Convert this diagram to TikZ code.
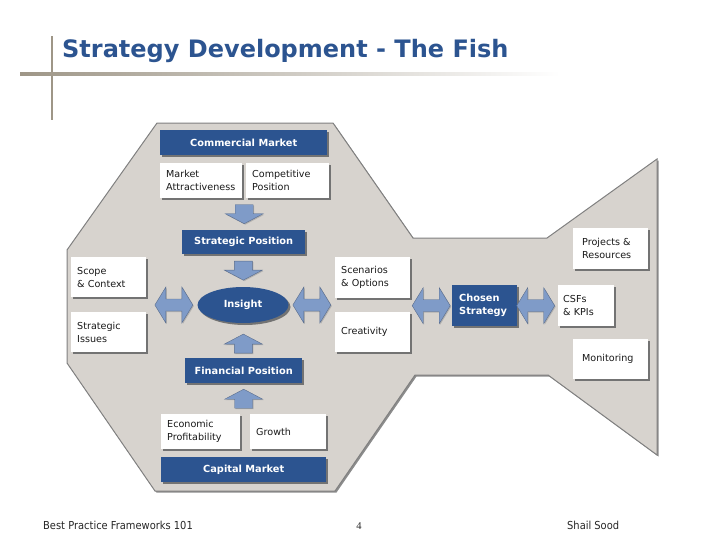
\documentclass[tikz,border=0pt]{standalone}
\usepackage{fontspec}
\setmainfont{DejaVu Sans}
\newfontfamily\footfont{DejaVu Sans Condensed}
\newfontfamily\pagefont{Liberation Serif}
\usetikzlibrary{shapes.geometric,shadows,calc}

\definecolor{fishblue}{RGB}{44,84,144}
\definecolor{fishgray}{RGB}{215,211,206}
\definecolor{arrowblue}{RGB}{127,155,200}
\definecolor{ruletan}{RGB}{158,150,135}

\begin{document}
\begin{tikzpicture}[x=1pt,y=-1pt,
  boxshadow/.style={drop shadow={shadow xshift=2pt,shadow yshift=-2pt,fill=black!55,opacity=1}},
  blue box/.style={fill=fishblue,text=white,font=\fontsize{9.8}{13}\selectfont\bfseries,
    anchor=north west,inner sep=0pt,boxshadow},
  white box/.style={fill=white,text=black!90,font=\fontsize{9.6}{13}\selectfont,
    anchor=north west,align=left,inner xsep=6pt,inner ysep=0pt,boxshadow},
  barrow/.style={fill=arrowblue,draw=arrowblue!70!black,line width=0.4pt,
    drop shadow={shadow xshift=1pt,shadow yshift=-1pt,fill=black!40,opacity=.6}},
  varrow/.pic={\draw[barrow] (-9,-9.5) -- (9,-9.5) -- (9,-0.5) -- (19,-0.5) -- (0,9.5)
    -- (-19,-0.5) -- (-9,-0.5) -- cycle;},
  harrow/.pic={\draw[barrow] (-19,0) -- (-8,-18) -- (-8,-6) -- (8,-6) -- (8,-18) -- (19,0)
    -- (8,18) -- (8,6) -- (-8,6) -- (-8,18) -- cycle;}]
  \useasboundingbox (0,0) rectangle (728,546);

  \fill[ruletan] (51,36) rectangle (53,120);
  \shade[left color=ruletan,right color=white] (20,72.5) rectangle (560,75.5);
  \node[anchor=base west,inner sep=0pt,text=fishblue,font=\fontsize{24}{28}\selectfont\bfseries]
    (title) at (62,57) {Strategy Development - The Fish};

  \filldraw[fill=fishgray,draw=black!50,line width=1pt,
    drop shadow={shadow xshift=1.5pt,shadow yshift=-1.5pt,fill=black!45,opacity=1}]
    (157,123) -- (333,123) -- (413,238) -- (547,238) -- (657,159) -- (657,455)
    -- (548,375) -- (415,375) -- (335,491) -- (155,491) -- (67,363) -- (67,250) -- cycle;

  \node[blue box,minimum width=167pt,minimum height=25pt] (cmarket) at (160,130) {Commercial Market};
  \node[white box,text width=70pt,minimum height=35pt] (mattr) at (160,163) {Market\\Attractiveness};
  \node[white box,text width=71pt,minimum height=35pt] (cpos) at (246,163) {Competitive\\Position};
  \node[blue box,minimum width=123pt,minimum height=24pt] (spos) at (182,230) {Strategic Position};
  \node[ellipse,fill=fishblue,text=white,inner sep=0pt,minimum width=91pt,minimum height=36pt,
    font=\fontsize{9.8}{13}\selectfont\bfseries,boxshadow] (insight) at (243,305) {Insight};
  \node[blue box,minimum width=117pt,minimum height=25pt] (fpos) at (185,358) {Financial Position};
  \node[white box,text width=67pt,minimum height=35pt] (eprof) at (161,414) {Economic\\Profitability};
  \node[white box,text width=64pt,minimum height=35pt] (growth) at (250,414) {Growth};
  \node[blue box,minimum width=165pt,minimum height=25pt] (capmkt) at (161,457) {Capital Market};

  \node[white box,text width=63pt,minimum height=40pt] (scope) at (71,257) {Scope\\ \& Context};
  \node[white box,text width=63pt,minimum height=40pt] (issues) at (71,312) {Strategic\\Issues};
  \node[white box,text width=63pt,minimum height=41pt] (scen) at (335,257) {Scenarios\\ \& Options};
  \node[white box,text width=63pt,minimum height=40pt] (creat) at (335,312) {Creativity};
  \node[blue box,align=left,inner xsep=7pt,text width=51pt,minimum height=41pt] (chosen) at (452,285) {Chosen\\Strategy};
  \node[white box,inner xsep=5pt,text width=46pt,minimum height=41pt] (csfs) at (558,285) {CSFs\\ \& KPIs};
  \node[white box,inner xsep=9pt,text width=57pt,minimum height=41pt] (projres) at (573,228) {Projects \&\\Resources};
  \node[white box,inner xsep=9pt,text width=57pt,minimum height=40pt] (monit) at (573,339) {Monitoring};

  \pic at ($(mattr.south east)!.5!(cpos.south west |- spos.north)$) {varrow};
  \pic at ($(spos.south)!.5!(insight.north)$) {varrow};
  \pic[rotate=180] at ($(insight.south)!.5!(fpos.north)+(0,3)$) {varrow};
  \pic[rotate=180] at ($(fpos.south)!.5!(eprof.north -| fpos.south)$) {varrow};
  \pic at ($(insight.west)!.5!(scope.east |- insight.west)+(2,0)$) {harrow};
  \pic at ($(insight.east)!.5!(scen.west |- insight.east)$) {harrow};
  \pic at ($(chosen.west)!.5!(scen.east |- chosen.west)$) {harrow};
  \pic at ($(chosen.east)!.5!(csfs.west)-(2,0)$) {harrow};

  \node[anchor=base west,inner sep=0pt,font=\footfont\fontsize{11}{13}\selectfont,text=black!85]
    (course) at (43,529) {Best Practice Frameworks 101};
  \node[anchor=base,inner sep=0pt,font=\pagefont\fontsize{10.5}{13}\selectfont,text=black!85]
    (pagenum) at (359,529) {4};
  \node[anchor=base west,inner sep=0pt,font=\footfont\fontsize{11}{13}\selectfont,text=black!85]
    (author) at (567,529) {Shail Sood};
\end{tikzpicture}
\end{document}
